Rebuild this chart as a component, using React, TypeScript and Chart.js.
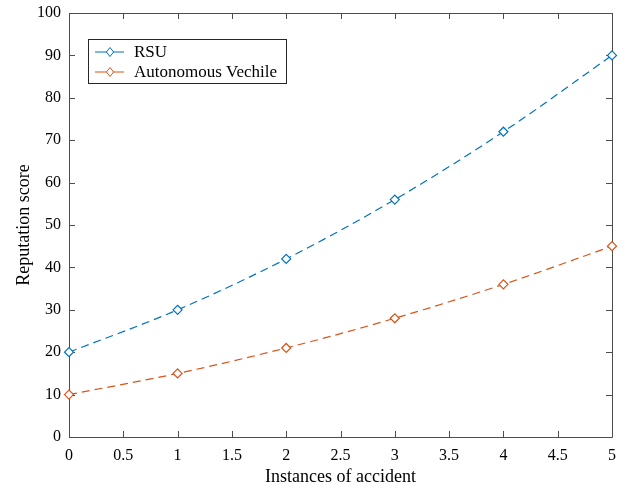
import React, { useEffect, useRef } from "react";
import { Chart, registerables } from "chart.js";

Chart.register(...registerables);

const instances = [0, 1, 2, 3, 4, 5];
const rsuScores = [20, 30, 42, 56, 72, 90];
const avScores = [10, 15, 21, 28, 36, 45];
const xTickValues = [0, 0.5, 1, 1.5, 2, 2.5, 3, 3.5, 4, 4.5, 5];
const yTickValues = [0, 10, 20, 30, 40, 50, 60, 70, 80, 90, 100];
const seriesLabels = ["RSU", "Autonomous Vechile"];
const seriesColors = ["#0072BD", "#D95319"];

const FONT = "'Liberation Serif', 'Times New Roman', serif";

const matlabAxes = {
  id: "matlabAxes",
  beforeDatasetsDraw(chart: any) {
    const { ctx, chartArea } = chart;
    const { left, right, top, bottom } = chartArea;
    const xs = chart.scales.x;
    const ys = chart.scales.y;
    const tl = 6;
    ctx.save();
    ctx.strokeStyle = "#4d4d4d";
    ctx.lineWidth = 1;
    ctx.beginPath();
    ctx.rect(Math.round(left) + 0.5, Math.round(top) + 0.5, Math.round(right - left), Math.round(bottom - top));
    for (const v of xTickValues) {
      const px = Math.round(xs.getPixelForValue(v)) + 0.5;
      ctx.moveTo(px, bottom);
      ctx.lineTo(px, bottom - tl);
      ctx.moveTo(px, top);
      ctx.lineTo(px, top + tl);
    }
    for (const v of yTickValues) {
      const py = Math.round(ys.getPixelForValue(v)) + 0.5;
      ctx.moveTo(left, py);
      ctx.lineTo(left + tl, py);
      ctx.moveTo(right, py);
      ctx.lineTo(right - tl, py);
    }
    ctx.stroke();
    ctx.restore();
  },
  afterDraw(chart: any) {
    const { ctx } = chart;
    const bx = 88.5, by = 39.5, bw = 198, bh = 44;
    ctx.save();
    ctx.fillStyle = "#ffffff";
    ctx.fillRect(bx, by, bw, bh);
    ctx.strokeStyle = "#262626";
    ctx.lineWidth = 1;
    ctx.strokeRect(bx, by, bw, bh);
    chart.data.datasets.forEach((ds: any, i: number) => {
      const cy = 52 + i * 20;
      ctx.strokeStyle = ds.borderColor;
      ctx.lineWidth = 1;
      ctx.setLineDash([]);
      ctx.beginPath();
      ctx.moveTo(95, cy);
      ctx.lineTo(124, cy);
      ctx.stroke();
      const mx = 110, r = 4.5;
      ctx.beginPath();
      ctx.moveTo(mx, cy - r);
      ctx.lineTo(mx + r * 0.8, cy);
      ctx.lineTo(mx, cy + r);
      ctx.lineTo(mx - r * 0.8, cy);
      ctx.closePath();
      ctx.fillStyle = "#ffffff";
      ctx.fill();
      ctx.stroke();
      ctx.fillStyle = "#000000";
      ctx.font = `17px ${FONT}`;
      ctx.textBaseline = "middle";
      ctx.textAlign = "left";
      ctx.fillText(ds.label, 134, cy + 1);
    });
    ctx.restore();
  },
};

export default function App() {
  const ref = useRef<HTMLCanvasElement | null>(null);
  useEffect(() => {
    document.body.style.margin = "0";
    const canvas = ref.current;
    if (!canvas) return;
    const makeData = (vals: number[]) => instances.map((x, i) => ({ x, y: vals[i] }));
    const mk = (i: number, vals: number[]) => ({
      label: seriesLabels[i],
      data: makeData(vals),
      borderColor: seriesColors[i],
      backgroundColor: "#ffffff",
      borderWidth: 1.2,
      borderDash: [8, 5],
      cubicInterpolationMode: "monotone" as const,
      pointStyle: "rectRot" as const,
      pointRadius: 4.5,
      pointBorderWidth: 1.2,
      pointBackgroundColor: "#ffffff",
      pointBorderColor: seriesColors[i],
      clip: false as any,
    });
    const chart = new Chart(canvas, {
      type: "line",
      data: { datasets: [mk(0, rsuScores), mk(1, avScores)] },
      options: {
        responsive: false,
        animation: false,
        devicePixelRatio: 1,
        layout: { padding: { top: 13, right: 24, left: 0, bottom: 0 } },
        plugins: { legend: { display: false }, tooltip: { enabled: false } },
        scales: {
          x: {
            type: "linear",
            min: 0,
            max: 5,
            afterBuildTicks: (s: any) => {
              s.ticks = xTickValues.map((v) => ({ value: v }));
            },
            afterFit: (s: any) => {
              s.height = 53;
              s.paddingLeft = 0;
              s.paddingRight = 0;
            },
            grid: { display: false, drawTicks: false },
            border: { display: false },
            ticks: {
              autoSkip: false,
              maxRotation: 0,
              padding: 9,
              color: "#000",
              font: { family: FONT, size: 16 },
              callback: (v: any) => String(v),
            },
            title: {
              display: true,
              text: "Instances of accident",
              color: "#000",
              font: { family: FONT, size: 18 },
              padding: { top: 0, bottom: 2 },
            },
          },
          y: {
            type: "linear",
            min: 0,
            max: 100,
            afterBuildTicks: (s: any) => {
              s.ticks = yTickValues.map((v) => ({ value: v }));
            },
            afterFit: (s: any) => {
              s.width = 69;
              s.paddingTop = 0;
              s.paddingBottom = 0;
            },
            grid: { display: false, drawTicks: false },
            border: { display: false },
            ticks: {
              autoSkip: false,
              padding: 8,
              color: "#000",
              font: { family: FONT, size: 16 },
              callback: (v: any) => String(v),
            },
            title: {
              display: true,
              text: "Reputation score",
              color: "#000",
              font: { family: FONT, size: 18 },
              padding: { top: 13, bottom: 0 },
            },
          },
        },
      },
      plugins: [matlabAxes],
    });
    return () => chart.destroy();
  }, []);
  return (
    <div style={{ width: 636, height: 490 }}>
      <canvas ref={ref} width={636} height={490} />
    </div>
  );
}
